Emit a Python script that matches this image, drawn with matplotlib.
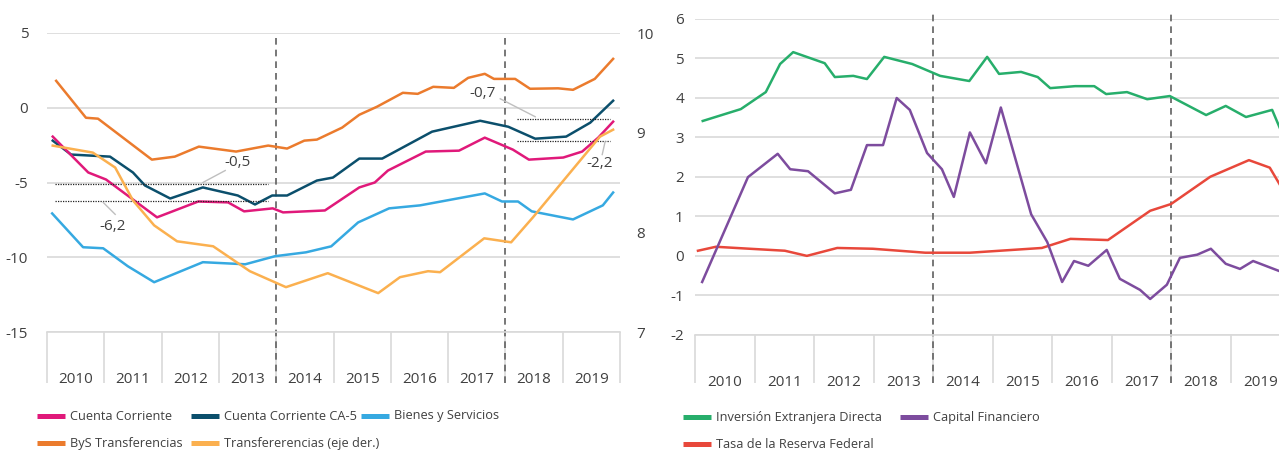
import matplotlib
matplotlib.use("Agg")
import matplotlib.pyplot as plt
from matplotlib.lines import Line2D

plt.rcParams['font.family'] = ['Open Sans', 'DejaVu Sans']

# ---------------- data (left panel) ----------------
years = [2010, 2011, 2012, 2013, 2014, 2015, 2016, 2017, 2018, 2019]
year_labels = [str(y) for y in years]

cc_x = [2010.10, 2010.72, 2011.03, 2011.92, 2012.64, 2013.16, 2013.44, 2013.94, 2014.12, 2014.85,
        2015.45, 2015.72, 2015.95, 2016.61, 2017.19, 2017.64, 2018.13, 2018.41, 2019.01, 2019.34,
        2019.62, 2019.88]
cc_y = [-1.93, -4.33, -4.8, -7.33, -6.27, -6.33, -6.93, -6.73, -7.0, -6.87,
        -5.33, -5.0, -4.2, -2.93, -2.87, -2.0, -2.8, -3.47, -3.33, -2.93,
        -2.0, -0.93]

ca5_x = [2010.10, 2010.42, 2011.10, 2011.50, 2011.71, 2012.15, 2012.72, 2013.33, 2013.63, 2013.93,
         2014.19, 2014.71, 2014.99, 2015.45, 2015.85, 2016.72, 2017.56, 2018.05, 2018.52, 2019.06,
         2019.48, 2019.88]
ca5_y = [-2.2, -3.13, -3.27, -4.33, -5.2, -6.07, -5.33, -5.87, -6.47, -5.87,
         -5.87, -4.87, -4.67, -3.4, -3.4, -1.6, -0.87, -1.27, -2.07, -1.93,
         -1.0, 0.47]

bys_x = [2010.09, 2010.63, 2010.98, 2011.41, 2011.87, 2012.72, 2013.46, 2013.98, 2014.52, 2014.96,
         2015.43, 2015.97, 2016.51, 2017.16, 2017.64, 2017.94, 2018.22, 2018.46, 2019.18, 2019.70,
         2019.88]
bys_y = [-7.07, -9.33, -9.4, -10.6, -11.67, -10.33, -10.47, -9.93, -9.67, -9.27,
         -7.67, -6.73, -6.53, -6.07, -5.73, -6.27, -6.27, -6.93, -7.47, -6.53,
         -5.67]

byst_x = [2010.16, 2010.68, 2010.89, 2011.83, 2012.23, 2012.65, 2013.30, 2013.86, 2014.19, 2014.49,
          2014.71, 2015.15, 2015.45, 2015.76, 2016.21, 2016.47, 2016.74, 2017.10, 2017.35, 2017.64,
          2017.80, 2018.17, 2018.43, 2018.92, 2019.18, 2019.56, 2019.88]
byst_y = [1.8, -0.67, -0.73, -3.47, -3.27, -2.6, -2.93, -2.53, -2.73, -2.2,
          -2.13, -1.33, -0.47, 0.07, 1.0, 0.93, 1.4, 1.33, 2.0, 2.27,
          1.93, 1.93, 1.27, 1.3, 1.2, 1.93, 3.27]

tr_x = [2010.10, 2010.80, 2011.19, 2011.50, 2011.87, 2012.27, 2012.90, 2013.54, 2014.17, 2014.90,
        2015.78, 2016.16, 2016.65, 2016.86, 2017.63, 2018.10, 2018.48, 2019.65, 2019.88]
tr_y = [8.87, 8.80, 8.65, 8.32, 8.07, 7.91, 7.86, 7.61, 7.45, 7.59,
        7.39, 7.55, 7.61, 7.60, 7.94, 7.90, 8.15, 8.96, 9.03]

# ---------------- data (right panel) ----------------
ied_x = [2010.13, 2010.77, 2011.19, 2011.43, 2011.65, 2012.18, 2012.35, 2012.66, 2012.89, 2013.18,
         2013.65, 2014.12, 2014.61, 2014.91, 2015.11, 2015.48, 2015.76, 2015.97, 2016.39, 2016.71,
         2016.91, 2017.26, 2017.60, 2017.98, 2018.59, 2018.92, 2019.26, 2019.70, 2019.88]
ied_y = [3.41, 3.71, 4.14, 4.85, 5.15, 4.87, 4.52, 4.55, 4.47, 5.03,
         4.85, 4.55, 4.42, 5.03, 4.6, 4.65, 4.52, 4.24, 4.29, 4.29,
         4.09, 4.14, 3.96, 4.04, 3.56, 3.79, 3.51, 3.69, 3.05]

cap_x = [2010.12, 2010.89, 2011.39, 2011.60, 2011.90, 2012.35, 2012.62, 2012.89, 2013.16, 2013.39,
         2013.61, 2013.90, 2014.15, 2014.35, 2014.62, 2014.89, 2015.14, 2015.65, 2015.92, 2016.17,
         2016.37, 2016.61, 2016.92, 2017.14, 2017.48, 2017.65, 2017.93, 2018.15, 2018.44, 2018.67,
         2018.92, 2019.16, 2019.38, 2019.90]
cap_y = [-0.66, 1.99, 2.58, 2.19, 2.14, 1.58, 1.67, 2.80, 2.80, 3.99,
         3.69, 2.6, 2.19, 1.49, 3.12, 2.34, 3.75, 1.05, 0.35, -0.66,
         -0.13, -0.25, 0.15, -0.58, -0.86, -1.09, -0.73, -0.05, 0.03, 0.18,
         -0.2, -0.33, -0.13, -0.43]

fed_x = [2010.05, 2010.35, 2010.92, 2011.51, 2011.88, 2012.39, 2012.99, 2013.87, 2014.62, 2015.83,
         2016.31, 2016.94, 2017.65, 2018.00, 2018.66, 2019.31, 2019.66, 2019.90]
fed_y = [0.13, 0.23, 0.18, 0.13, 0.0, 0.2, 0.18, 0.08, 0.08, 0.2,
         0.43, 0.4, 1.14, 1.31, 2.0, 2.42, 2.23, 1.62]

# ---------------- styling ----------------
C_CC = '#E0197A'
C_CA5 = '#0B4F6C'
C_BYS = '#36A9E1'
C_BYST = '#EB7B2D'
C_TR = '#FBB04F'
C_IED = '#27AE6B'
C_CAP = '#7D4C9E'
C_FED = '#E8483B'
GRID = '#D9D9D9'
TXT = '#404040'
LW = 1.8
FS = 11

W, H = 1279, 450
fig = plt.figure(figsize=(W / 100, H / 100), dpi=100)


def px_ax(x0, x1, ytop, ybot):
    return [x0 / W, 1 - ybot / H, (x1 - x0) / W, (ybot - ytop) / H]


def setup_axis(ax, ymin, ymax, yticks, ypad, cat_px, ppu, dashed_top):
    ax.set_xlim(2010, 2020)
    ax.set_ylim(ymin, ymax)
    ax.set_yticks(yticks)
    ax.set_yticklabels([str(t) for t in yticks])
    for s in ['top', 'right', 'left']:
        ax.spines[s].set_visible(False)
    ax.spines['bottom'].set_color(GRID)
    ax.spines['bottom'].set_linewidth(1.2)
    ax.grid(axis='y', color=GRID, lw=1.2)
    ax.set_axisbelow(True)
    ax.tick_params(axis='y', length=0, pad=ypad, labelsize=FS, labelcolor=TXT)
    ax.set_xticks(list(range(2010, 2021)))
    ax.set_xticklabels([])
    ax.set_xticks([y + 0.5 for y in years], minor=True)
    ax.set_xticklabels(year_labels, minor=True)
    ax.tick_params(axis='x', which='major', length=cat_px * 0.72, width=1.2, color=GRID, direction='out')
    ax.tick_params(axis='x', which='minor', length=0, pad=29, labelsize=FS, labelcolor=TXT)
    bottom = ymin - cat_px / ppu
    for xv in (2014, 2018):
        ax.plot([xv, xv], [bottom, dashed_top], color='#606060', lw=1.2,
                ls=(0, (4, 3)), clip_on=False, zorder=1)


# ---------------- left panel ----------------
axL = fig.add_axes(px_ax(47, 620, 33, 332))
setup_axis(axL, -15, 5, [-15, -10, -5, 0, 5], 13.5, 51, 15.0, 5)
axL.plot(bys_x, bys_y, color=C_BYS, lw=LW, zorder=3)
axL.plot(byst_x, byst_y, color=C_BYST, lw=LW, zorder=3)
axL.plot(ca5_x, ca5_y, color=C_CA5, lw=LW, zorder=4)
axL.plot(cc_x, cc_y, color=C_CC, lw=LW, zorder=4)

axR = axL.twinx()
axR.set_ylim(7, 10)
axR.set_yticks([7, 8, 9, 10])
axR.tick_params(axis='y', length=0, pad=12, labelsize=FS, labelcolor=TXT)
for s in axR.spines.values():
    s.set_visible(False)
axR.plot(tr_x, tr_y, color=C_TR, lw=LW, zorder=3)

# annotations (left panel)
dot = dict(color='#222222', lw=0.9, ls=(0, (1, 1)), zorder=5)
lead = dict(color='#BFBFBF', lw=1.0, zorder=5)
axL.plot([2010.14, 2013.86], [-5.07, -5.07], **dot)
axL.plot([2010.14, 2013.86], [-6.27, -6.27], **dot)
axL.plot([2018.2, 2019.83], [-0.73, -0.73], **dot)
axL.plot([2018.2, 2019.83], [-2.2, -2.2], **dot)
axL.plot([2013.11, 2012.72], [-4.2, -5.0], **lead)
axL.plot([2011.19, 2010.98], [-7.13, -6.33], **lead)
axL.plot([2017.91, 2018.52], [0.6, -0.6], **lead)
axL.plot([2019.69, 2019.74], [-3.13, -2.27], **lead)
ann = dict(fontsize=FS, color=TXT, ha='center', va='center', zorder=6)
axL.text(2013.32, -3.67, '-0,5', **ann)
axL.text(2011.15, -7.93, '-6,2', **ann)
axL.text(2017.61, 0.93, '-0,7', **ann)
axL.text(2019.65, -3.73, '-2,2', **ann)

# ---------------- right panel ----------------
ppu2 = 39.6
ax2 = fig.add_axes(px_ax(695, 1290, 18.5, 335))
setup_axis(ax2, -2, 6, [-2, -1, 0, 1, 2, 3, 4, 5, 6], 8, 48, ppu2, 6 + 8.5 / ppu2)
ax2.plot(fed_x, fed_y, color=C_FED, lw=LW, zorder=3)
ax2.plot(cap_x, cap_y, color=C_CAP, lw=LW, zorder=3)
ax2.plot(ied_x, ied_y, color=C_IED, lw=LW, zorder=3)

# ---------------- legends ----------------
LEG_FS = 9.2
legend_items = [
    (37, 416, C_CC, 'Cuenta Corriente'),
    (191, 416, C_CA5, 'Cuenta Corriente CA-5'),
    (361, 416, C_BYS, 'Bienes y Servicios'),
    (37, 443, C_BYST, 'ByS Transferencias'),
    (191, 443, C_TR, 'Transfererencias (eje der.)'),
    (683, 417, C_IED, 'Inversión Extranjera Directa'),
    (900, 417, C_CAP, 'Capital Financiero'),
    (683, 444, C_FED, 'Tasa de la Reserva Federal'),
]
for x0, yc, col, lab in legend_items:
    fig.add_artist(Line2D([x0 / W, (x0 + 28) / W], [1 - yc / H, 1 - yc / H],
                          color=col, lw=3.6, solid_capstyle='butt', transform=fig.transFigure))
    fig.text((x0 + 33) / W, 1 - yc / H, lab, fontsize=LEG_FS, color=TXT, va='center', ha='left',
             family=['Open Sans', 'DejaVu Sans'])

fig.savefig('out.png', dpi=100)
